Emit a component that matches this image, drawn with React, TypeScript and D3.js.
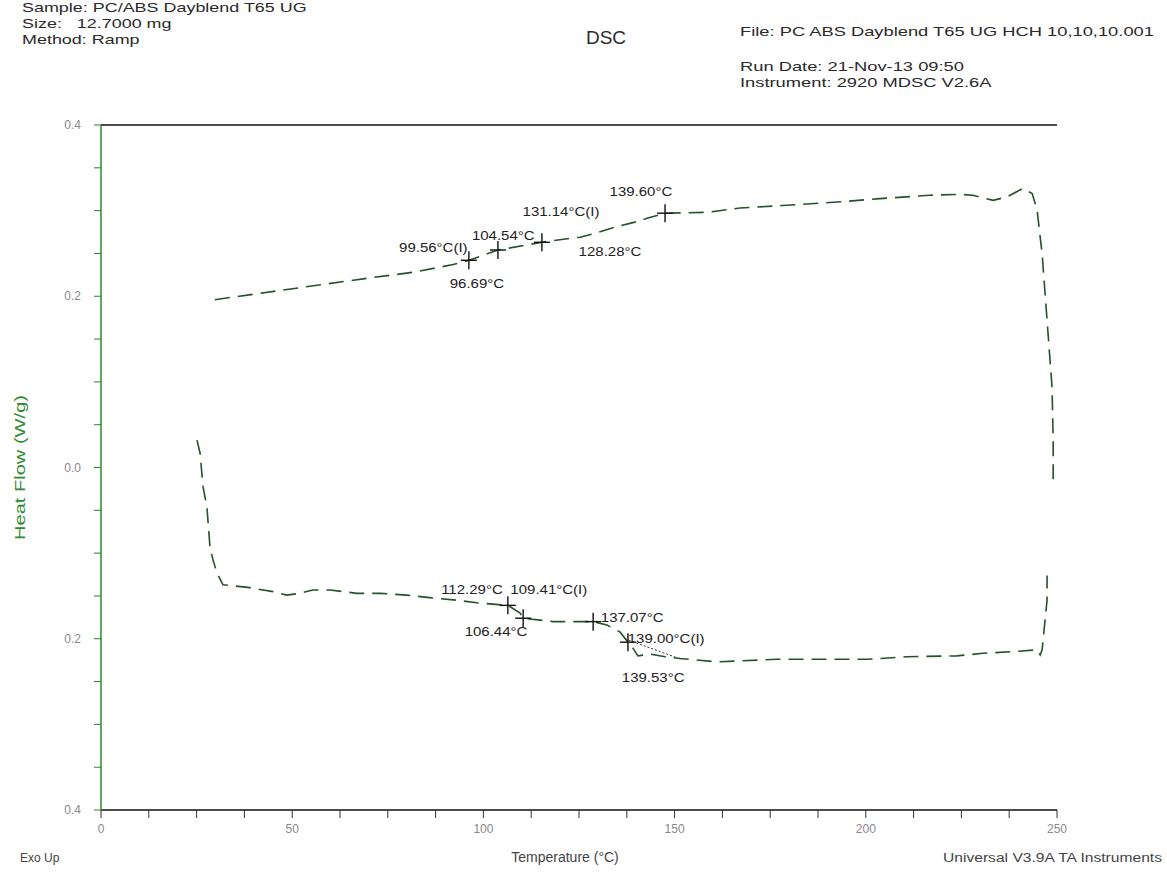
import React from "react";
import * as d3 from "d3";

// Heat flow curves (temperature °C, heat flow W/g)
const heatingTemps = [29.8, 52.0, 69.6, 81.6, 92.1, 96.2, 103.8, 115.3, 118.2, 125.3, 128.7, 133.9, 139.1, 142.8, 147.5, 158.5, 167.1, 178.3, 192.5, 203.7, 216.8, 224.6, 228.0, 233.3, 236.9, 241.1, 243.5, 244.8, 245.6, 246.1, 247.4, 248.7, 249.0, 249.0];
const heatingFlow = [0.196, 0.210, 0.221, 0.228, 0.237, 0.242, 0.254, 0.263, 0.265, 0.269, 0.273, 0.280, 0.286, 0.291, 0.297, 0.298, 0.303, 0.306, 0.310, 0.314, 0.318, 0.319, 0.318, 0.312, 0.316, 0.326, 0.320, 0.301, 0.269, 0.250, 0.172, 0.094, 0.032, -0.018];

const lowerTemps = [25.1, 25.9, 26.7, 27.7, 28.5, 29.3, 30.3, 31.9, 38.4, 45.0, 48.6, 52.0, 55.4, 59.9, 66.9, 73.0, 80.0, 86.0, 93.1, 98.3, 106.4, 109.6, 110.4, 118.2, 123.4, 128.7, 132.3, 135.7, 137.8, 139.1, 140.4, 143.6, 147.5, 151.4, 161.1, 176.8, 200.3, 210.8, 223.8, 230.6, 238.5, 244.8, 245.6, 246.1, 247.4, 247.4];
const lowerFlow = [0.032, 0.017, -0.023, -0.046, -0.093, -0.108, -0.123, -0.137, -0.140, -0.145, -0.149, -0.147, -0.143, -0.143, -0.147, -0.147, -0.149, -0.152, -0.155, -0.158, -0.161, -0.170, -0.176, -0.180, -0.180, -0.180, -0.184, -0.192, -0.204, -0.211, -0.220, -0.218, -0.221, -0.223, -0.227, -0.224, -0.224, -0.221, -0.220, -0.217, -0.215, -0.213, -0.219, -0.213, -0.155, -0.126];

// Analysis markers placed on the curves
const markerTemps = [96.2, 103.8, 115.3, 147.5, 106.4, 110.4, 128.7, 137.8];
const markerFlow = [0.242, 0.254, 0.263, 0.297, -0.161, -0.176, -0.180, -0.204];

// Annotation labels (text, anchor temperature, anchor heat flow)
const labelTexts = ["139.60°C", "131.14°C(I)", "104.54°C", "99.56°C(I)", "96.69°C", "128.28°C", "112.29°C", "109.41°C(I)", "106.44°C", "137.07°C", "139.00°C(I)", "139.53°C"];
const labelTemps = [141.2, 120.3, 105.2, 86.9, 98.3, 133.1, 97.0, 117.1, 103.3, 138.9, 147.8, 144.4];
const labelFlow = [0.322, 0.299, 0.271, 0.257, 0.214, 0.252, -0.143, -0.143, -0.192, -0.176, -0.200, -0.246];

// Extrapolated tangent near the second lower transition
const tangentTemps = [137.0, 150.5];
const tangentFlow = [-0.200, -0.222];

const xTicks = [0, 50, 100, 150, 200, 250];
const yTicks = [0.4, 0.2, 0.0, -0.2, -0.4];

const headerLeft = ["Sample: PC/ABS Dayblend T65 UG", "Size:   12.7000 mg", "Method: Ramp"];
const headerRight = ["File: PC ABS Dayblend T65 UG HCH 10,10,10.001", "Run Date: 21-Nov-13 09:50", "Instrument: 2920 MDSC V2.6A"];

const W = 1167;
const H = 873;
const left = 101;
const right = 1057;
const top = 125;
const bottom = 810;

export default function App() {
  const x = d3.scaleLinear().domain([0, 250]).range([left, right]);
  const y = d3.scaleLinear().domain([-0.4, 0.4]).range([bottom, top]);

  const line = d3
    .line<[number, number]>()
    .x((d) => x(d[0]))
    .y((d) => y(d[1]));

  const upper = heatingTemps.map((t, i) => [t, heatingFlow[i]] as [number, number]);
  const lower = lowerTemps.map((t, i) => [t, lowerFlow[i]] as [number, number]);
  const tangent = tangentTemps.map((t, i) => [t, tangentFlow[i]] as [number, number]);

  const xMinor = d3.range(0, 250.01, 12.5);
  const yMinor = d3.range(-0.4, 0.401, 0.05);
  const fmtY = (v: number) => d3.format(".1f")(Math.abs(v));

  const font = "Arial, 'Liberation Sans', sans-serif";
  const curveColor = "#24522a";
  const textColor = "#2a2a2a";

  return (
    <svg width={W} height={H} style={{ position: "absolute", left: 0, top: 0, background: "#fff" }} fontFamily={font}>
      <rect width={W} height={H} fill="#fff" />
      {/* header, drawn with a wide horizontal stretch */}
      <g transform="translate(22,0) scale(1.38,1)">
        {headerLeft.map((t, i) => (
          <text key={"hl" + i} x={0} y={12 + i * 16} fontSize={13} fill={textColor} style={{ whiteSpace: "pre" }}>
            {t}
          </text>
        ))}
      </g>
      <text x={606} y={44} fontSize={19} fill={textColor} textAnchor="middle">DSC</text>
      <g transform="translate(740,0) scale(1.41,1)">
        <text x={0} y={36} fontSize={13} fill={textColor}>{headerRight[0]}</text>
        <text x={0} y={71} fontSize={13} fill={textColor}>{headerRight[1]}</text>
        <text x={0} y={87} fontSize={13} fill={textColor}>{headerRight[2]}</text>
      </g>

      {/* frame */}
      <line x1={left} x2={right} y1={top} y2={top} stroke="#111" strokeWidth={1.5} />
      <line x1={left} x2={right} y1={bottom} y2={bottom} stroke="#111" strokeWidth={1.5} />
      <line x1={left} x2={left} y1={top} y2={bottom} stroke="#2e8b2e" strokeWidth={1.5} />

      {/* y ticks */}
      {yMinor.map((v, i) => (
        <line key={"ym" + i} x1={left - 7} x2={left} y1={y(v)} y2={y(v)} stroke="#2e7d2e" strokeWidth={1} />
      ))}
      {yTicks.map((v, i) => (
        <text key={"yt" + i} x={left - 20} y={y(v) + 4} fontSize={12} fill="#8a8a8a" textAnchor="end">
          {fmtY(v)}
        </text>
      ))}

      {/* x ticks */}
      {xMinor.map((v, i) => (
        <line key={"xm" + i} x1={x(v)} x2={x(v)} y1={bottom} y2={bottom + 8} stroke="#333" strokeWidth={1} />
      ))}
      {xTicks.map((v, i) => (
        <text key={"xt" + i} x={x(v)} y={bottom + 23} fontSize={12} fill="#8a8a8a" textAnchor="middle">
          {v}
        </text>
      ))}

      {/* axis titles */}
      <text
        transform={`translate(25,${y(0)}) rotate(-90)`}
        fontSize={15}
        fill="#2e8b2e"
        textAnchor="middle"
        textLength={145}
        lengthAdjust="spacingAndGlyphs"
      >
        Heat Flow (W/g)
      </text>
      <text x={565} y={862} fontSize={14} fill="#444" textAnchor="middle">
        Temperature (°C)
      </text>
      <text x={20} y={862} fontSize={12} fill="#444">Exo Up</text>
      <text x={943} y={862} fontSize={12} fill="#444" textLength={219} lengthAdjust="spacingAndGlyphs">
        Universal V3.9A TA Instruments
      </text>

      {/* curves */}
      <path d={line(upper) || ""} fill="none" stroke={curveColor} strokeWidth={1.6} strokeDasharray="15 8" />
      <path d={line(lower) || ""} fill="none" stroke={curveColor} strokeWidth={1.6} strokeDasharray="15 8" />
      <path d={line(tangent) || ""} fill="none" stroke="#333" strokeWidth={1} strokeDasharray="2 2" />

      {/* markers */}
      {markerTemps.map((t, i) => (
        <g key={"mk" + i} stroke="#111" strokeWidth={1.4}>
          <line x1={x(t) - 8} x2={x(t) + 8} y1={y(markerFlow[i])} y2={y(markerFlow[i])} />
          <line x1={x(t)} x2={x(t)} y1={y(markerFlow[i]) - 9} y2={y(markerFlow[i]) + 9} />
        </g>
      ))}

      {/* annotation labels */}
      {labelTexts.map((t, i) => (
        <g key={"lb" + i} transform={`translate(${x(labelTemps[i])},${y(labelFlow[i])}) scale(1.25,1)`}>
          <text x={0} y={0} dy="0.35em" fontSize={12} fill="#222" textAnchor="middle">
            {t}
          </text>
        </g>
      ))}
    </svg>
  );
}
